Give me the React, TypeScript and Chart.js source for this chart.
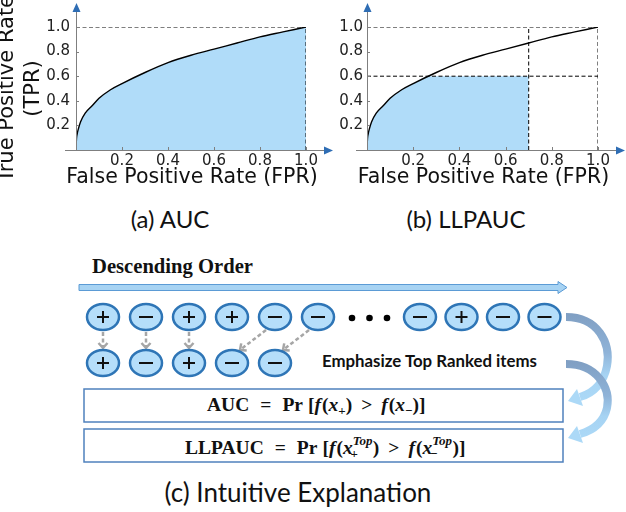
import React, { useEffect, useRef } from "react";
import { Chart, registerables } from "chart.js";

Chart.register(...registerables);

// ---- data ----
const fprValues = [0, 0.002, 0.005, 0.01, 0.02, 0.04, 0.07, 0.1, 0.15, 0.2, 0.3, 0.4, 0.5, 0.6, 0.7, 0.8, 0.9, 1.0];
const tprValues = [0, 0.09, 0.13, 0.17, 0.23, 0.3, 0.36, 0.42, 0.49, 0.54, 0.63, 0.71, 0.77, 0.82, 0.87, 0.92, 0.96, 1.0];
const axisTicks = [0.2, 0.4, 0.6, 0.8, 1.0];
const llpaucFprMax = 0.7;
const llpaucTprMax = 0.6;
const xAxisTitle = "False Positive Rate (FPR)";
const yAxisTitle = ["True Positive Rate", "(TPR)"];

const rankedSigns = ["+", "-", "+", "+", "-", "-"];
const rankedTailSigns = ["-", "+", "-", "-"];
const topSigns = ["+", "-", "+", "-", "-"];
const topMoves = [
  [0, 0],
  [1, 1],
  [2, 2],
  [4, 3],
  [5, 4],
];

const FILL = "#b0dcf9";
const AXIS_GRAY = "#7f7f7f";
const ARROW_BLUE = "#2e6db4";
const CIRCLE_FILL = "#b5defa";
const CIRCLE_STROKE = "#2e75b6";

const rocAxes = {
  id: "rocAxes",
  afterDatasetsDraw(chart: any) {
    const { ctx } = chart;
    const xs = chart.scales.x;
    const ys = chart.scales.y;
    const x0 = xs.getPixelForValue(0);
    const y0 = ys.getPixelForValue(0);
    const xEnd = xs.getPixelForValue(1) + 18;
    const yTop = 12;
    ctx.save();
    ctx.strokeStyle = AXIS_GRAY;
    ctx.lineWidth = 1;
    ctx.beginPath();
    ctx.moveTo(x0 - 11, y0 + 0.5);
    ctx.lineTo(xEnd, y0 + 0.5);
    ctx.moveTo(x0 + 0.5, y0 + 1);
    ctx.lineTo(x0 + 0.5, yTop);
    for (const t of axisTicks) {
      const px = Math.round(xs.getPixelForValue(t)) + 0.5;
      ctx.moveTo(px, y0);
      ctx.lineTo(px, y0 - 3);
      const py = Math.round(ys.getPixelForValue(t)) + 0.5;
      ctx.moveTo(x0, py);
      ctx.lineTo(x0 + 3, py);
    }
    ctx.stroke();
    ctx.fillStyle = ARROW_BLUE;
    ctx.beginPath();
    ctx.moveTo(xEnd, y0 + 0.5 - 4);
    ctx.lineTo(xEnd + 9, y0 + 0.5);
    ctx.lineTo(xEnd, y0 + 0.5 + 4);
    ctx.closePath();
    ctx.fill();
    ctx.beginPath();
    ctx.moveTo(x0 + 0.5 - 4, yTop);
    ctx.lineTo(x0 + 0.5, yTop - 9);
    ctx.lineTo(x0 + 0.5 + 4, yTop);
    ctx.closePath();
    ctx.fill();
    // x axis title (drawn without Chart.js' maxWidth squeeze)
    ctx.fillStyle = "#111";
    ctx.font = "20.5px 'DejaVu Sans'";
    ctx.textAlign = "center";
    ctx.textBaseline = "middle";
    ctx.fillText(xAxisTitle, (chart.chartArea.left + chart.chartArea.right) / 2 + 1, 178);
    ctx.restore();
  },
};

function guide(xsArr: number[], ysArr: number[]) {
  return {
    data: xsArr.map((x, i) => ({ x, y: ysArr[i] })),
    borderColor: "#000",
    borderWidth: 1,
    borderDash: [4, 2.5],
    pointRadius: 0,
    fill: false,
    order: -1,
  };
}

function buildConfig(kind: "auc" | "llpauc", width: number): any {
  const curve = fprValues.map((x, i) => ({ x, y: tprValues[i] }));
  const datasets: any[] = [
    {
      data: curve,
      borderColor: "#000",
      borderWidth: 1.4,
      pointRadius: 0,
      cubicInterpolationMode: "monotone",
      fill: kind === "auc" ? "origin" : false,
      backgroundColor: FILL,
      order: 0,
    },
    guide([0, 1], [1, 1]),
    guide([1, 1], [0, 1]),
  ];
  if (kind === "llpauc") {
    datasets.push(guide([0, 1], [llpaucTprMax, llpaucTprMax]));
    datasets.push(guide([llpaucFprMax, llpaucFprMax], [0, 1]));
    // region under the curve, capped at TPR <= 0.6 and FPR <= 0.7
    const pts: { x: number; y: number }[] = [];
    for (let i = 0; i < fprValues.length; i++) {
      const x = fprValues[i];
      const y = tprValues[i];
      if (x > llpaucFprMax) break;
      if (y <= llpaucTprMax) {
        pts.push({ x, y });
      } else {
        const px = fprValues[i - 1];
        const py = tprValues[i - 1];
        if (py < llpaucTprMax) {
          const cx = px + ((llpaucTprMax - py) / (y - py)) * (x - px);
          pts.push({ x: cx, y: llpaucTprMax });
        }
      }
    }
    pts.push({ x: llpaucFprMax, y: llpaucTprMax });
    datasets.push({
      data: pts,
      borderWidth: 0,
      borderColor: "rgba(0,0,0,0)",
      backgroundColor: FILL,
      pointRadius: 0,
      cubicInterpolationMode: "monotone",
      fill: "origin",
      order: 2,
    });
  }
  const yLeft = kind === "auc" ? 76 : 67;
  const xRight = kind === "auc" ? 306 : 298;
  return {
    type: "line",
    data: { datasets },
    options: {
      responsive: false,
      animation: false,
      parsing: true,
      layout: { padding: { top: 27, right: width - xRight, left: 0, bottom: 0 } },
      plugins: { legend: { display: false }, tooltip: { enabled: false } },
      scales: {
        x: {
          type: "linear",
          min: 0,
          max: 1,
          grid: { display: false, drawTicks: false },
          border: { display: false },
          afterBuildTicks: (s: any) => {
            s.ticks = axisTicks.map((v) => ({ value: v }));
          },
          afterFit: (s: any) => {
            s.height = 50;
          },
          ticks: {
            padding: 2,
            color: "#222",
            font: { family: "'DejaVu Sans'", size: 15 },
            callback: (v: any) => Number(v).toFixed(1),
          },
          title: { display: false },
        },
        y: {
          type: "linear",
          min: 0,
          max: 1,
          grid: { display: false, drawTicks: false },
          border: { display: false },
          afterBuildTicks: (s: any) => {
            s.ticks = axisTicks.map((v) => ({ value: v }));
          },
          afterFit: (s: any) => {
            s.width = yLeft;
          },
          ticks: {
            padding: kind === "auc" ? 6 : 4,
            color: "#222",
            font: { family: "'DejaVu Sans'", size: 15 },
            callback: (v: any) => Number(v).toFixed(1),
          },
          title: {
            display: kind === "auc",
            text: yAxisTitle,
            color: "#111",
            font: { family: "'DejaVu Sans'", size: 21, lineHeight: 1.25 },
            padding: { top: -6, bottom: 0 },
          },
        },
      },
    },
    plugins: [rocAxes],
  };
}

function RocChart({ kind, left, width, height }: { kind: "auc" | "llpauc"; left: number; width: number; height: number }) {
  const ref = useRef<HTMLCanvasElement | null>(null);
  useEffect(() => {
    if (!ref.current) return;
    const chart = new Chart(ref.current, buildConfig(kind, width));
    return () => chart.destroy();
  }, [kind, width]);
  return (
    <canvas
      ref={ref}
      width={width}
      height={height}
      style={{ position: "absolute", left, top: 0, width, height, zIndex: 2 }}
    />
  );
}

function Sign({ cx, cy, s }: { cx: number; cy: number; s: string }) {
  if (s === "+") {
    return (
      <g stroke="#111" strokeWidth={2}>
        <line x1={cx - 6} y1={cy} x2={cx + 6} y2={cy} />
        <line x1={cx} y1={cy - 6} x2={cx} y2={cy + 6} />
      </g>
    );
  }
  return <line x1={cx - 7} y1={cy} x2={cx + 7} y2={cy} stroke="#111" strokeWidth={2} />;
}

function Item({ cx, cy, s }: { cx: number; cy: number; s: string }) {
  return (
    <g>
      <ellipse cx={cx} cy={cy} rx={16} ry={13} fill={CIRCLE_FILL} stroke={CIRCLE_STROKE} strokeWidth={2.5} />
      <Sign cx={cx} cy={cy} s={s} />
    </g>
  );
}

function GrayArrow({ x1, y1, x2, y2 }: { x1: number; y1: number; x2: number; y2: number }) {
  const dx = x2 - x1;
  const dy = y2 - y1;
  const len = Math.hypot(dx, dy);
  const ux = dx / len;
  const uy = dy / len;
  const px = -uy;
  const py = ux;
  const bx = x2 - ux * 5;
  const by = y2 - uy * 5;
  return (
    <g stroke="#a6a6a6" strokeWidth={2.5} fill="none">
      <line x1={x1} y1={y1} x2={x2 - ux * 1} y2={y2 - uy * 1} strokeDasharray="4 2.5" />
      <polyline points={`${bx + px * 4.5},${by + py * 4.5} ${x2},${y2} ${bx - px * 4.5},${by - py * 4.5}`} />
    </g>
  );
}

function CurvedArrow({ d, tip, base1, base2, grad }: { d: string; tip: number[]; base1: number[]; base2: number[]; grad: string }) {
  return (
    <g>
      <path d={d} stroke={`url(#${grad})`} strokeWidth={8} fill="none" />
      <polygon points={`${base1[0]},${base1[1]} ${tip[0]},${tip[1]} ${base2[0]},${base2[1]}`} fill="#acd9f7" />
    </g>
  );
}

function Diagram() {
  const row1Y = 317;
  const row2Y = 363;
  const headX = (i: number) => 103 + i * 43;
  const tailX = (i: number) => 420 + i * 41.5;
  const sans = "Lato, 'Open Sans', sans-serif";
  const serif = "'Liberation Serif', 'Times New Roman', serif";
  return (
    <svg width={626} height={512} style={{ position: "absolute", left: 0, top: 0, zIndex: 1 }}>
      <defs>
        <linearGradient id="g1" gradientUnits="userSpaceOnUse" x1="0" y1="312" x2="0" y2="402">
          <stop offset="0" stopColor="#7f9ec2" />
          <stop offset="0.45" stopColor="#8fb3d8" />
          <stop offset="0.7" stopColor="#a6d3f3" />
          <stop offset="1" stopColor="#acd9f7" />
        </linearGradient>
        <linearGradient id="g2" gradientUnits="userSpaceOnUse" x1="0" y1="360" x2="0" y2="440">
          <stop offset="0" stopColor="#7f9ec2" />
          <stop offset="0.45" stopColor="#8fb3d8" />
          <stop offset="0.7" stopColor="#a6d3f3" />
          <stop offset="1" stopColor="#acd9f7" />
        </linearGradient>
      </defs>

      <text x={170} y={228} textAnchor="middle" fontFamily={sans} fontSize={24} fill="#111">
        (a) AUC
      </text>
      <text x={466} y={228} textAnchor="middle" fontFamily={sans} fontSize={24} fill="#111">
        (b) LLPAUC
      </text>

      <text x={92} y={273} fontFamily={serif} fontWeight="bold" fontSize={21} fill="#111" textLength={161} lengthAdjust="spacingAndGlyphs">
        Descending Order
      </text>
      <path d="M79,284.5 L558,284.5 L558,281.5 L567,287.5 L558,293.5 L558,290.5 L79,290.5 Z" fill="#a7d3f3" stroke="#5b9bd5" strokeWidth={1} />

      {topMoves.map(([from, to], i) => {
        const fx = headX(from);
        const tx = headX(to);
        if (from === to) return <GrayArrow key={i} x1={fx} y1={row1Y + 15} x2={tx} y2={row2Y - 15} />;
        return <GrayArrow key={i} x1={fx - 9} y1={row1Y + 13} x2={tx + 8} y2={row2Y - 13} />;
      })}

      {rankedSigns.map((s, i) => (
        <Item key={"a" + i} cx={headX(i)} cy={row1Y} s={s} />
      ))}
      {[352, 369.5, 387].map((x, i) => (
        <circle key={"d" + i} cx={x} cy={row1Y + 1} r={3.3} fill="#000" />
      ))}
      {rankedTailSigns.map((s, i) => (
        <Item key={"b" + i} cx={tailX(i)} cy={row1Y} s={s} />
      ))}
      {topSigns.map((s, i) => (
        <Item key={"c" + i} cx={headX(i)} cy={row2Y} s={s} />
      ))}

      <text x={322} y={367} fontFamily={sans} fontWeight="bold" fontSize={17} fill="#111" textLength={215} lengthAdjust="spacingAndGlyphs">
        Emphasize Top Ranked items
      </text>

      <rect x={84} y={389} width={479} height={33} fill="#fff" stroke="#4f81bd" strokeWidth={1.5} />
      <rect x={84} y={429} width={479} height={33} fill="#fff" stroke="#4f81bd" strokeWidth={1.5} />

      <CurvedArrow
        grad="g1"
        d="M566,317 C598,317 611,343 607,366 C604,382 594,393 580,397"
        tip={[568, 401]}
        base1={[577, 389]}
        base2={[583, 406]}
      />
      <CurvedArrow
        grad="g2"
        d="M566,364 C597,364 611,388 607,408 C604,421 594,430 580,434"
        tip={[568, 438]}
        base1={[577, 426]}
        base2={[583, 443]}
      />

      <text x={207} y={411} fontFamily={serif} fontWeight="bold" fontSize={19.5} fill="#111">
        <tspan>AUC</tspan>
        <tspan dx={11}>=</tspan>
        <tspan dx={11}>Pr</tspan>
        <tspan dx={5}>[</tspan>
        <tspan fontStyle="italic">f</tspan>
        <tspan dx={1}>(</tspan>
        <tspan fontStyle="italic">x</tspan>
        <tspan fontSize={13} dy={4}>+</tspan>
        <tspan dy={-4}>)</tspan>
        <tspan dx={9}>&gt;</tspan>
        <tspan dx={9} fontStyle="italic">f</tspan>
        <tspan dx={1}>(</tspan>
        <tspan fontStyle="italic">x</tspan>
        <tspan fontSize={13} dy={4}>−</tspan>
        <tspan dy={-4}>)]</tspan>
      </text>

      <text x={185} y={454} fontFamily={serif} fontWeight="bold" fontSize={19.5} fill="#111">
        <tspan>LLPAUC</tspan>
        <tspan dx={11}>=</tspan>
        <tspan dx={11}>Pr</tspan>
        <tspan dx={5}>[</tspan>
        <tspan fontStyle="italic">f</tspan>
        <tspan dx={1}>(</tspan>
        <tspan fontStyle="italic">x</tspan>
        <tspan fontSize={13} fontStyle="italic" dy={-9}>Top</tspan>
        <tspan fontSize={13} dx={-22} dy={13}>+</tspan>
        <tspan dx={15} dy={-4}>)</tspan>
        <tspan dx={9}>&gt;</tspan>
        <tspan dx={9} fontStyle="italic">f</tspan>
        <tspan dx={1}>(</tspan>
        <tspan fontStyle="italic">x</tspan>
        <tspan fontSize={13} fontStyle="italic" dy={-9}>Top</tspan>
        <tspan fontSize={13} dx={-22} dy={13}>−</tspan>
        <tspan dx={15} dy={-4}>)]</tspan>
      </text>

      <text x={298} y={502} textAnchor="middle" fontFamily={sans} fontSize={26} fill="#111">
        (c) Intuitive Explanation
      </text>
    </svg>
  );
}

export default function App() {
  return (
    <div style={{ position: "absolute", left: 0, top: 0, width: 626, height: 512, background: "#fff", overflow: "hidden" }}>
      <Diagram />
      <RocChart kind="auc" left={0} width={340} height={200} />
      <RocChart kind="llpauc" left={300} width={326} height={200} />
    </div>
  );
}
